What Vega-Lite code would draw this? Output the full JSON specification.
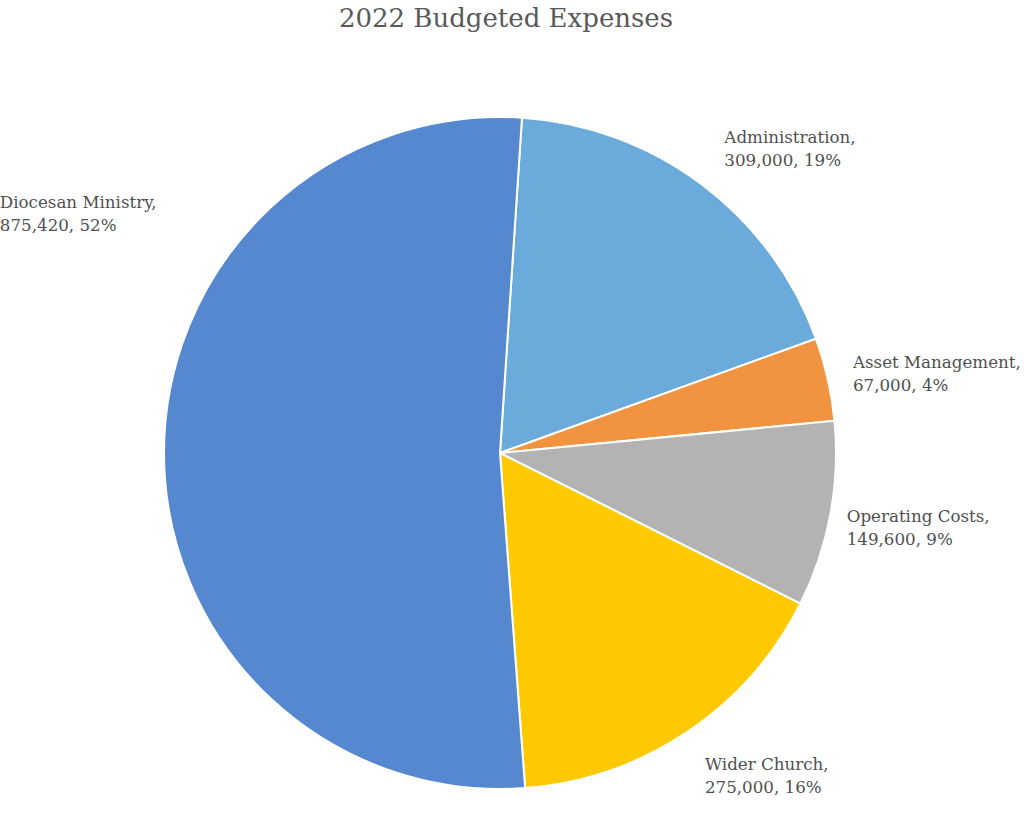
{
  "$schema": "https://vega.github.io/schema/vega-lite/v6.json",
  "autosize": "none",
  "width": 1000,
  "height": 766,
  "padding": {"top": 70, "left": 0, "right": 24, "bottom": 0},
  "background": "white",
  "title": {
    "text": "2022 Budgeted Expenses",
    "font": "DejaVu Serif",
    "fontSize": 26,
    "fontWeight": "normal",
    "color": "#595959",
    "anchor": "middle",
    "frame": "group",
    "offset": 38,
    "dx": 6
  },
  "data": {
    "values": [
      {"category": "Administration", "order": 1, "amount": 309000, "label": "Administration,\n309,000, 19%"},
      {"category": "Asset Management", "order": 2, "amount": 67000, "label": "Asset Management,\n67,000, 4%"},
      {"category": "Operating Costs", "order": 3, "amount": 149600, "label": "Operating Costs,\n149,600, 9%"},
      {"category": "Wider Church", "order": 4, "amount": 275000, "label": "Wider Church,\n275,000, 16%"},
      {"category": "Diocesan Ministry", "order": 5, "amount": 875420, "label": "Diocesan Ministry,\n875,420, 52%"}
    ]
  },
  "encoding": {
    "theta": {"field": "amount", "type": "quantitative", "stack": true, "scale": {"range": [0.0654, 6.3486]}},
    "order": {"field": "order", "type": "quantitative", "sort": "ascending"}
  },
  "layer": [
    {
      "mark": {"type": "arc", "outerRadius": 336, "stroke": "white", "strokeWidth": 2},
      "encoding": {
        "color": {
          "field": "category",
          "type": "nominal",
          "legend": null,
          "scale": {
            "domain": ["Administration", "Asset Management", "Operating Costs", "Wider Church", "Diocesan Ministry"],
            "range": ["#6AABDC", "#F29340", "#B3B3B3", "#FFC900", "#5588CF"]
          }
        }
      }
    },
    {
      "mark": {"type": "text", "radius": 370, "dx": 2, "dy": -19, "align": "left", "baseline": "middle", "font": "DejaVu Serif", "fontSize": 16.7, "lineHeight": 23, "lineBreak": "\n", "color": "#505050"},
      "encoding": {"text": {"condition": {"test": "datum.category === 'Administration'", "field": "label"}, "value": ""}}
    },
    {
      "mark": {"type": "text", "radius": 370, "dx": -8, "dy": -9, "align": "left", "baseline": "middle", "font": "DejaVu Serif", "fontSize": 16.7, "lineHeight": 23, "lineBreak": "\n", "color": "#505050"},
      "encoding": {"text": {"condition": {"test": "datum.category === 'Asset Management'", "field": "label"}, "value": ""}}
    },
    {
      "mark": {"type": "text", "radius": 370, "dx": -17, "dy": -4, "align": "left", "baseline": "middle", "font": "DejaVu Serif", "fontSize": 16.7, "lineHeight": 23, "lineBreak": "\n", "color": "#505050"},
      "encoding": {"text": {"condition": {"test": "datum.category === 'Operating Costs'", "field": "label"}, "value": ""}}
    },
    {
      "mark": {"type": "text", "radius": 370, "dx": -1, "dy": 5, "align": "left", "baseline": "middle", "font": "DejaVu Serif", "fontSize": 16.7, "lineHeight": 23, "lineBreak": "\n", "color": "#505050"},
      "encoding": {"text": {"condition": {"test": "datum.category === 'Wider Church'", "field": "label"}, "value": ""}}
    },
    {
      "transform": [{"filter": "datum.category === 'Diocesan Ministry'"}],
      "mark": {"type": "text", "align": "left", "baseline": "middle", "dy": -12, "font": "DejaVu Serif", "fontSize": 16.7, "lineHeight": 23, "lineBreak": "\n", "color": "#505050"},
      "encoding": {
        "text": {"field": "label"},
        "theta": {"value": 5.157},
        "radius": {"value": 554}
      }
    }
  ]
}
